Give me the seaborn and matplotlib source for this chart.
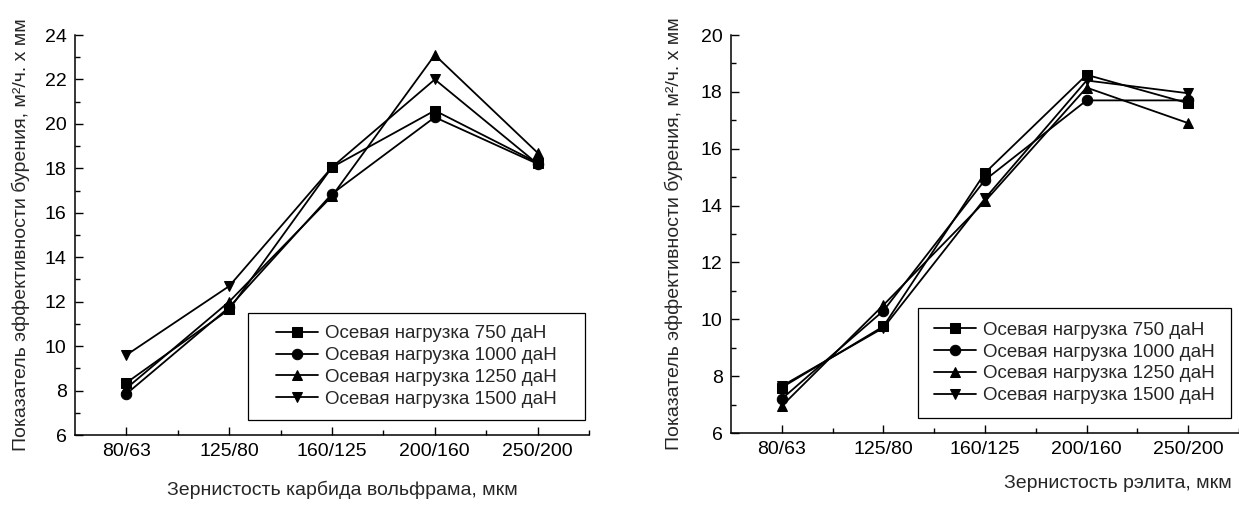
import numpy as np
import pandas as pd
import matplotlib
matplotlib.use("Agg")
import matplotlib.pyplot as plt
from matplotlib.patches import Rectangle
import seaborn as sns

# data
grain = ["80/63", "125/80", "160/125", "200/160", "250/200"]
loads = ["Осевая нагрузка 750 даН", "Осевая нагрузка 1000 даН",
         "Осевая нагрузка 1250 даН", "Осевая нагрузка 1500 даН"]

# left panel: tungsten carbide grain
wc_750 = [8.35, 11.65, 18.05, 20.6, 18.25]
wc_1000 = [7.85, 11.75, 16.85, 20.3, 18.2]
wc_1250 = [8.1, 12.0, 16.75, 23.1, 18.7]
wc_1500 = [9.6, 12.7, 18.05, 22.0, 18.2]

# right panel: relite grain
rl_750 = [7.6, 9.75, 15.15, 18.6, 17.6]
rl_1000 = [7.2, 10.3, 14.9, 17.7, 17.7]
rl_1250 = [6.95, 10.5, 14.15, 18.15, 16.9]
rl_1500 = [7.65, 9.7, 14.25, 18.4, 17.95]

markers = ["s", "o", "^", "v"]

sns.set_style("ticks")
plt.rcParams["font.family"] = ["Liberation Sans", "DejaVu Sans"]
plt.rcParams["font.size"] = 14


def long_df(series):
    rows = []
    for lab, vals in zip(loads, series):
        for i, v in enumerate(vals):
            rows.append({"pos": i, "value": v, "load": lab})
    return pd.DataFrame(rows)


def draw(ax, series, ylim, yticks, xmax, box, ylab_x):
    df = long_df(series)
    sns.lineplot(data=df, x="pos", y="value", style="load", style_order=loads,
                 markers=markers, dashes=False, color="black", linewidth=1.3,
                 markersize=7.5, markeredgecolor="black", ax=ax)
    ax.set_xlim(-0.5, xmax)
    ax.set_ylim(*ylim)
    ax.set_xticks(range(len(grain)))
    ax.set_xticklabels(grain)
    ax.set_xticks(np.arange(0.5, 4.6, 1.0), minor=True)
    ax.set_yticks(yticks)
    ax.set_yticks(np.arange(ylim[0] + 1, ylim[1], 2), minor=True)
    ax.tick_params(which="both", direction="in", width=1, colors="black",
                   labelsize=14, pad=6)
    ax.tick_params(which="major", length=6)
    ax.tick_params(which="minor", length=3.5)
    for s in ["top", "right"]:
        ax.spines[s].set_visible(False)
    for s in ["left", "bottom"]:
        ax.spines[s].set_linewidth(1.1)
        ax.spines[s].set_color("black")
    ax.set_ylabel("Показатель эффективности бурения, м²/ч. х мм", fontsize=14)
    ax.yaxis.set_label_coords(ylab_x, 0.5)

    handles, labels = ax.get_legend_handles_labels()
    ax.get_legend().remove()
    x0, y0, x1, y1 = box
    ax.add_patch(Rectangle((x0, y0), x1 - x0, y1 - y0, transform=ax.transAxes,
                           fill=False, edgecolor="black", linewidth=0.9,
                           zorder=5, clip_on=False))
    ax.legend(handles[-4:], labels[-4:], loc="center",
              bbox_to_anchor=((x0 + x1) / 2, (y0 + y1) / 2),
              frameon=False, fontsize=13.5, handlelength=2.2,
              handletextpad=0.4, labelspacing=0.25, borderpad=0)


fig = plt.figure(figsize=(12.39, 5.07), dpi=100)
ax1 = fig.add_axes([75 / 1239, 1 - 435 / 507, 514 / 1239, 400 / 507])
ax2 = fig.add_axes([731 / 1239, 1 - 433 / 507, 508 / 1239, 398 / 507])

draw(ax1, [wc_750, wc_1000, wc_1250, wc_1500], (6, 24), range(6, 25, 2), 4.5,
     (0.337, 0.0375, 0.992, 0.305), -0.088)
draw(ax2, [rl_750, rl_1000, rl_1250, rl_1500], (6, 20), range(6, 21, 2), 4.42,
     (0.368, 0.038, 0.985, 0.314), -0.095)

ax1.set_xlabel("Зернистость карбида вольфрама, мкм", fontsize=14)
ax1.xaxis.set_label_coords(0.52, -0.115)
ax2.set_xlabel("Зернистость рэлита, мкм", fontsize=14, ha="right")
ax2.xaxis.set_label_coords(0.986, -0.105)

fig.savefig("out.png", dpi=100)
